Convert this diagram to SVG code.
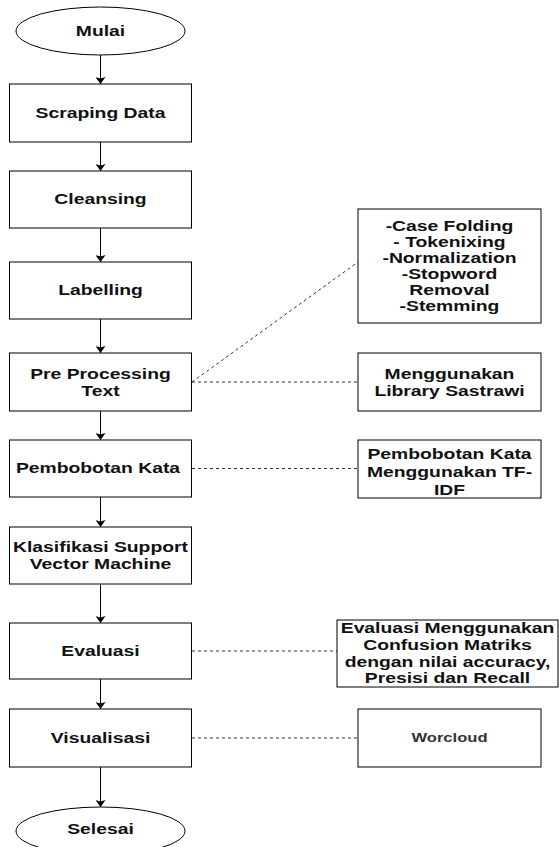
<svg xmlns="http://www.w3.org/2000/svg" width="559" height="847" viewBox="0 0 559 847">
<defs>
<style>
.box{fill:#fff;stroke:#000;stroke-width:1}
.t{font-family:"Liberation Sans",Arial,sans-serif;font-weight:bold;font-size:14px;fill:#111;text-anchor:middle}
.ts{font-size:12px;fill:#333}
.flow{fill:none;stroke:#000;stroke-width:1}
.dash{fill:none;stroke:#333;stroke-width:1;stroke-dasharray:3 3}
</style>
<marker id="arr" viewBox="0 0 7 10" refX="7" refY="5" markerWidth="7" markerHeight="10" orient="auto" markerUnits="userSpaceOnUse">
<path d="M0,0 L7,5 L0,10 L1.5,5 Z" fill="#000"/>
</marker>
</defs>
<rect width="559" height="847" fill="#fff"/>

<g id="connectors">
<line class="flow" x1="100.5" y1="55" x2="100.5" y2="84" marker-end="url(#arr)"/>
<line class="flow" x1="100.5" y1="142" x2="100.5" y2="171" marker-end="url(#arr)"/>
<line class="flow" x1="100.5" y1="228" x2="100.5" y2="262" marker-end="url(#arr)"/>
<line class="flow" x1="100.5" y1="319" x2="100.5" y2="353" marker-end="url(#arr)"/>
<line class="flow" x1="100.5" y1="411" x2="100.5" y2="440" marker-end="url(#arr)"/>
<line class="flow" x1="100.5" y1="497" x2="100.5" y2="527" marker-end="url(#arr)"/>
<line class="flow" x1="100.5" y1="584" x2="100.5" y2="623" marker-end="url(#arr)"/>
<line class="flow" x1="100.5" y1="679" x2="100.5" y2="709" marker-end="url(#arr)"/>
<line class="flow" x1="100.5" y1="767" x2="100.5" y2="807" marker-end="url(#arr)"/>
<line class="dash" x1="192" y1="382" x2="358" y2="262"/>
<line class="dash" x1="192" y1="382" x2="358" y2="382"/>
<line class="dash" x1="192" y1="468.5" x2="358" y2="468.5"/>
<line class="dash" x1="192" y1="651" x2="337" y2="651"/>
<line class="dash" x1="192" y1="738" x2="358" y2="738"/>
</g>

<g id="mulai">
<ellipse class="box" cx="100.5" cy="31" rx="84.5" ry="24"/>
<text class="t" transform="matrix(1.38 0 0 1 100.5 0)" x="0" y="36">Mulai</text>
</g>
<g id="scraping">
<rect class="box" x="9.5" y="84" width="182" height="58"/>
<text class="t" transform="matrix(1.38 0 0 1 100.5 0)" x="0" y="118">Scraping Data</text>
</g>
<g id="cleansing">
<rect class="box" x="9.5" y="171" width="182" height="57"/>
<text class="t" transform="matrix(1.38 0 0 1 100.5 0)" x="0" y="204.5">Cleansing</text>
</g>
<g id="labelling">
<rect class="box" x="9.5" y="262" width="182" height="57"/>
<text class="t" transform="matrix(1.38 0 0 1 100.5 0)" x="0" y="295.5">Labelling</text>
</g>
<g id="preprocessing">
<rect class="box" x="9.5" y="353" width="182" height="58"/>
<text class="t" transform="matrix(1.38 0 0 1 100.5 0)" x="0" y="379">Pre Processing</text>
<text class="t" transform="matrix(1.38 0 0 1 100.5 0)" x="0" y="396">Text</text>
</g>
<g id="pembobotan">
<rect class="box" x="9.5" y="440" width="182" height="57"/>
<text class="t" transform="matrix(1.38 0 0 1 98 0)" x="0" y="473.5">Pembobotan Kata</text>
</g>
<g id="klasifikasi">
<rect class="box" x="9.5" y="527" width="182" height="57"/>
<text class="t" transform="matrix(1.38 0 0 1 100.5 0)" x="0" y="552">Klasifikasi Support</text>
<text class="t" transform="matrix(1.38 0 0 1 100.5 0)" x="0" y="569">Vector Machine</text>
</g>
<g id="evaluasi">
<rect class="box" x="9.5" y="623" width="182" height="56"/>
<text class="t" transform="matrix(1.38 0 0 1 100.5 0)" x="0" y="656">Evaluasi</text>
</g>
<g id="visualisasi">
<rect class="box" x="9.5" y="709" width="182" height="58"/>
<text class="t" transform="matrix(1.38 0 0 1 100.5 0)" x="0" y="743">Visualisasi</text>
</g>
<g id="selesai">
<ellipse class="box" cx="100.5" cy="831" rx="84.5" ry="24"/>
<text class="t" transform="matrix(1.38 0 0 1 100.5 0)" x="0" y="834">Selesai</text>
</g>

<g id="preprocessing-steps">
<rect class="box" x="358" y="209" width="183" height="114"/>
<text class="t" transform="matrix(1.38 0 0 1 449.5 0)" x="0" y="231">-Case Folding</text>
<text class="t" transform="matrix(1.38 0 0 1 449.5 0)" x="0" y="247">- Tokenixing</text>
<text class="t" transform="matrix(1.38 0 0 1 449.5 0)" x="0" y="263">-Normalization</text>
<text class="t" transform="matrix(1.38 0 0 1 449.5 0)" x="0" y="279">-Stopword</text>
<text class="t" transform="matrix(1.38 0 0 1 449.5 0)" x="0" y="295">Removal</text>
<text class="t" transform="matrix(1.38 0 0 1 449.5 0)" x="0" y="311">-Stemming</text>
</g>
<g id="sastrawi">
<rect class="box" x="358" y="353" width="183" height="58"/>
<text class="t" transform="matrix(1.38 0 0 1 449.5 0)" x="0" y="379">Menggunakan</text>
<text class="t" transform="matrix(1.38 0 0 1 449.5 0)" x="0" y="396">Library Sastrawi</text>
</g>
<g id="tfidf">
<rect class="box" x="358" y="440" width="183" height="58"/>
<text class="t" transform="matrix(1.38 0 0 1 449.5 0)" x="0" y="459">Pembobotan Kata</text>
<text class="t" transform="matrix(1.38 0 0 1 449.5 0)" x="0" y="477">Menggunakan TF-</text>
<text class="t" transform="matrix(1.38 0 0 1 449.5 0)" x="0" y="495">IDF</text>
</g>
<g id="confusion">
<rect class="box" x="337" y="620" width="221" height="67"/>
<text class="t" transform="matrix(1.38 0 0 1 447.5 0)" x="0" y="633">Evaluasi Menggunakan</text>
<text class="t" transform="matrix(1.38 0 0 1 447.5 0)" x="0" y="650">Confusion Matriks</text>
<text class="t" transform="matrix(1.38 0 0 1 447.5 0)" x="0" y="667">dengan nilai accuracy,</text>
<text class="t" transform="matrix(1.38 0 0 1 447.5 0)" x="0" y="683">Presisi dan Recall</text>
</g>
<g id="worcloud">
<rect class="box" x="358" y="709" width="183" height="58"/>
<text class="t ts" transform="matrix(1.38 0 0 1 449.5 0)" x="0" y="742">Worcloud</text>
</g>
</svg>
